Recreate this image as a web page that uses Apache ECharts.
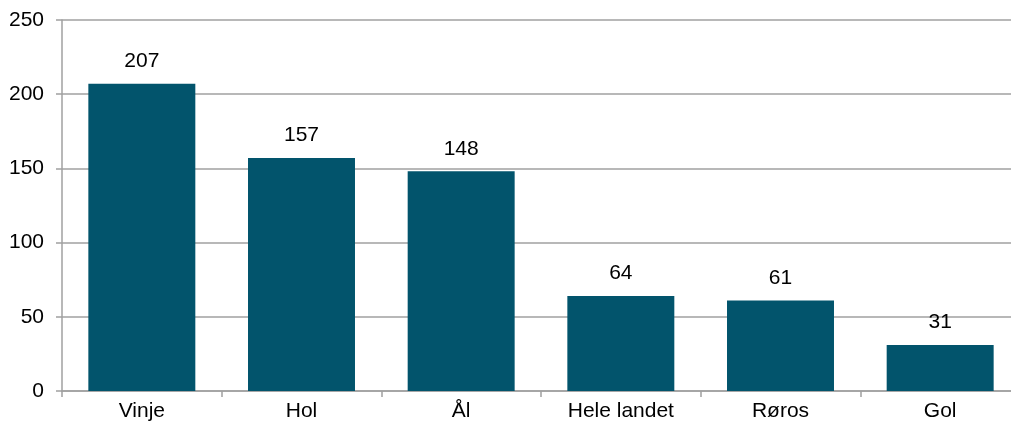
<!DOCTYPE html>
<html>
<head>
<meta charset="utf-8">
<script src="https://cdn.jsdelivr.net/npm/echarts@6/dist/echarts.min.js"></script>
<style>
  html, body { margin: 0; padding: 0; background: #fff; }
  #chart { width: 1011px; height: 427px; }
</style>
</head>
<body>
<div id="chart"></div>
<script>
const categories = ["Vinje", "Hol", "Ål", "Hele landet", "Røros", "Gol"];
const values = [207, 157, 148, 64, 61, 31];
const yTicks = [0, 50, 100, 150, 200, 250];

const chart = echarts.init(document.getElementById("chart"));
chart.setOption({
  animation: false,
  textStyle: { fontFamily: "Liberation Sans, Arial, sans-serif" },
  grid: { left: 62, right: -9, top: 20, bottom: 36, containLabel: false, outerBoundsMode: "none" },
  xAxis: {
    type: "category",
    data: categories,
    axisLine: { lineStyle: { color: "#a0a0a0", width: 1.5 } },
    axisTick: { show: true, alignWithLabel: false, length: 6, lineStyle: { color: "#a0a0a0", width: 1.5 } },
    axisLabel: { color: "#000", fontSize: 21, margin: 10 }
  },
  yAxis: {
    type: "value",
    min: yTicks[0],
    max: yTicks[yTicks.length - 1],
    interval: 50,
    axisLine: { show: true, lineStyle: { color: "#a0a0a0", width: 1.5 } },
    axisTick: { show: true, length: 6, lineStyle: { color: "#a0a0a0", width: 1.5 } },
    axisLabel: { color: "#000", fontSize: 21, margin: 18 },
    splitLine: { lineStyle: { color: "#a0a0a0", width: 1.5 } }
  },
  series: [{
    type: "bar",
    data: values,
    barCategoryGap: "33%",
    itemStyle: { color: "#02546C" },
    label: {
      show: true,
      position: "top",
      distance: 12,
      color: "#000",
      fontSize: 21
    }
  }]
});
</script>
</body>
</html>
